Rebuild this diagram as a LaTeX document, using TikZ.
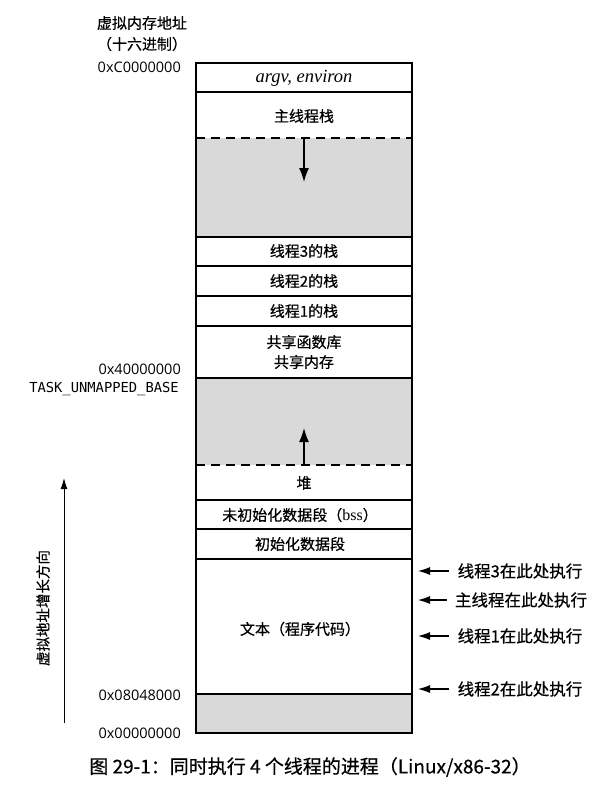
\documentclass[tikz,border=0pt]{standalone}
\usepackage{fontspec}
\newfontfamily\cjk[FakeBold=0.6]{Noto Sans CJK SC}
\newfontfamily\hexfont{Open Sans}
\newfontfamily\monofont{DejaVu Sans Mono}
\newfontfamily\serifit{Liberation Serif}
\usetikzlibrary{arrows.meta}
\pgfdeclarelayer{edgelayer}
\pgfdeclarelayer{nodelayer}
\pgfsetlayers{edgelayer,nodelayer,main}
\tikzset{x=1pt,y=-1pt}
\tikzstyle{none}=[inner sep=0pt]
\tikzstyle{seg}=[inner sep=0pt,align=center,font=\cjk\fontsize{15}{20}\selectfont]
\tikzstyle{addr}=[inner sep=0pt,anchor=east,font=\hexfont\fontsize{14.5}{17}\selectfont]
\tikzstyle{runlabel}=[inner sep=0pt,font=\cjk\fontsize{16.5}{19}\selectfont]
\tikzstyle{boxline}=[line width=1.8pt]
\tikzstyle{rowline}=[line width=1.5pt]
\tikzstyle{growline}=[line width=1.5pt,dash pattern=on 9pt off 6pt]
\tikzstyle{unused}=[fill=black!15]
\tikzstyle{growarrow}=[line width=1.5pt,-{Latex[length=14pt,width=10pt]}]
\tikzstyle{runarrow}=[line width=1.1pt,-{Latex[length=12pt,width=8pt]}]

\begin{document}
\begin{tikzpicture}
	\useasboundingbox (0,0) rectangle (592,790);
	\begin{pgfonlayer}{nodelayer}
		\node [style=seg, font=\serifit\itshape\fontsize{18.5}{22}\selectfont] (0) at (304,78) {argv, environ};
		\node [style=seg] (1) at (304,116) {主线程栈};
		\node [style=seg] (2) at (304,251) {线程3的栈};
		\node [style=seg] (3) at (304,281) {线程2的栈};
		\node [style=seg] (4) at (304,311) {线程1的栈};
		\node [style=seg] (5) at (304,352) {共享函数库\\共享内存};
		\node [style=seg] (6) at (304,483) {堆};
		\node [style=seg] (7) at (300,515) {未初始化数据段（{\serifit\fontsize{16}{20}\selectfont bss}）};
		\node [style=seg] (8) at (300,544) {初始化数据段};
		\node [style=seg] (9) at (300,629) {文本（程序代码）};
		\node [style=seg] (10) at (142,23) {虚拟内存地址};
		\node [style=seg] (11) at (142,44) {（十六进制）};
		\node [style=addr] (12) at (181,67) {0xC0000000};
		\node [style=addr] (13) at (181,369) {0x40000000};
		\node [style=addr, font=\monofont\fontsize{13.8}{16}\selectfont] (14) at (179,389) {TASK\_UNMAPPED\_BASE};
		\node [style=addr] (15) at (181,695) {0x08048000};
		\node [style=addr] (16) at (181,733) {0x00000000};
		\node [style=seg, rotate=90, font=\cjk\fontsize{14.5}{17}\selectfont] (17) at (43,608) {虚拟地址增长方向};
		\node [style=runlabel] (20) at (520,571) {线程3在此处执行};
		\node [style=runlabel] (21) at (521,600) {主线程在此处执行};
		\node [style=runlabel] (22) at (520,636) {线程1在此处执行};
		\node [style=runlabel] (23) at (520,689) {线程2在此处执行};
		\node [style=seg, font=\cjk\fontsize{19}{22}\selectfont] (30) at (310,767) {图 29-1：同时执行 4 个线程的进程（Linux/x86-32）};
		\coordinate (a0) at (64,723);
		\coordinate (a1) at (64,478);
		\coordinate (g0) at (304,138);
		\coordinate (g1) at (304,182);
		\coordinate (h0) at (304,465);
		\coordinate (h1) at (304,428);
		\coordinate (r20) at (418,571);
		\coordinate (r21) at (418,600);
		\coordinate (r22) at (418,636);
		\coordinate (r23) at (418,689);
	\end{pgfonlayer}
	\begin{pgfonlayer}{edgelayer}
		\fill [style=unused] (196,138) rectangle (412,237);
		\fill [style=unused] (196,378) rectangle (412,465);
		\fill [style=unused] (196,694) rectangle (412,733);
		\foreach \y in {92,237,266,296,326,378,500,529,559,694}
			\draw [style=rowline] (196,\y) -- (412,\y);
		\draw [style=growline] (196,138) -- (412,138);
		\draw [style=growline] (196,465) -- (412,465);
		\draw [style=boxline] (196,63) rectangle (412,733);
		\draw [style=growarrow] (g0) to (g1);
		\draw [style=growarrow] (h0) to (h1);
		\draw [line width=0.9pt, -{Latex[length=11pt,width=7pt]}] (a0) to (a1);
		\foreach \n in {20,21,22,23}
			\draw [style=runarrow, shorten <=8pt] (\n.west) to (r\n);
	\end{pgfonlayer}
\end{tikzpicture}
\end{document}
